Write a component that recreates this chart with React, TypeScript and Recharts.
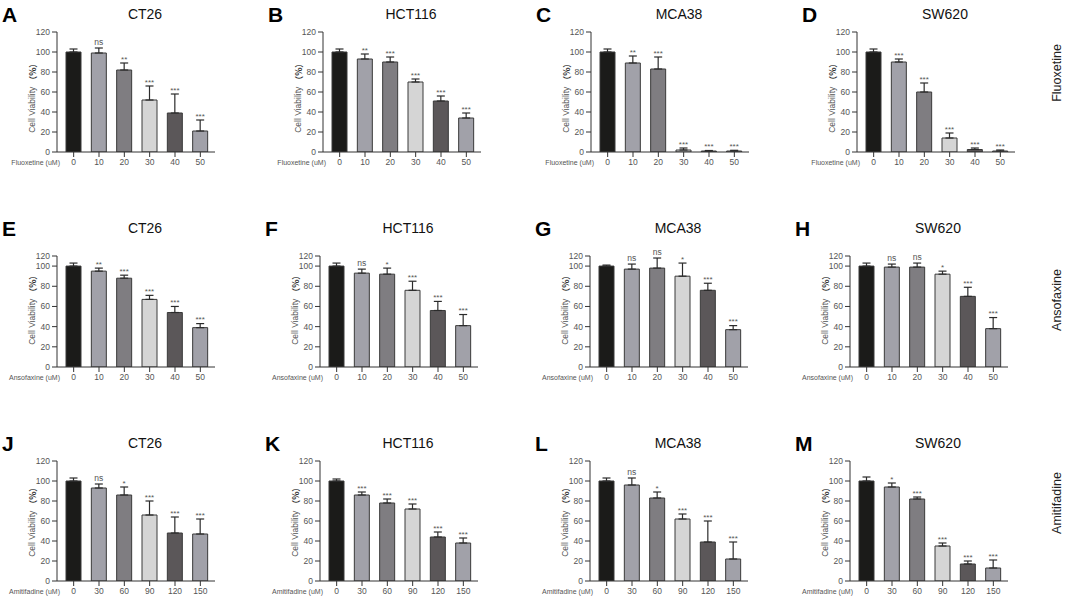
import React from 'react';
import { BarChart, Bar, XAxis, YAxis, ErrorBar, Cell, LabelList } from 'recharts';

// ---------- categories / ticks ----------
const fluoxetineDoses = ['0', '10', '20', '30', '40', '50'];
const ansofaxineDoses = ['0', '10', '20', '30', '40', '50'];
const amitifadineDoses = ['0', '30', '60', '90', '120', '150'];
const yTickValues = [0, 20, 40, 60, 80, 100, 120];
const barColors = ['#1b1b19', '#a1a1a9', '#7f7d81', '#d5d5d5', '#5b5759', '#a1a1a9'];

// ---------- Fluoxetine ----------
const ct26FluoxMean = [100, 99, 82, 52, 39, 21];
const ct26FluoxErr = [3, 5, 7, 14, 19, 11];
const ct26FluoxSig = ['', 'ns', '**', '***', '***', '***'];
const hct116FluoxMean = [100, 93, 90, 70, 51, 34];
const hct116FluoxErr = [3, 5, 5, 3, 5, 5];
const hct116FluoxSig = ['', '**', '***', '***', '***', '***'];
const mca38FluoxMean = [100, 89, 83, 2, 1, 1];
const mca38FluoxErr = [3, 7, 12, 2, 0.5, 0.7];
const mca38FluoxSig = ['', '**', '***', '***', '***', '***'];
const sw620FluoxMean = [100, 90, 60, 14, 2.5, 1];
const sw620FluoxErr = [3, 3, 9, 5, 1.5, 1];
const sw620FluoxSig = ['', '***', '***', '***', '***', '***'];

// ---------- Ansofaxine ----------
const ct26AnsoMean = [100, 95, 88, 67, 54, 39];
const ct26AnsoErr = [3, 3, 3, 4, 6, 4];
const ct26AnsoSig = ['', '**', '***', '***', '***', '***'];
const hct116AnsoMean = [100, 93, 92, 76, 56, 41];
const hct116AnsoErr = [3, 4, 6, 9, 9, 11];
const hct116AnsoSig = ['', 'ns', '*', '***', '***', '***'];
const mca38AnsoMean = [100, 97, 98, 90, 76, 37];
const mca38AnsoErr = [1, 5, 10, 13, 7, 4];
const mca38AnsoSig = ['', 'ns', 'ns', '*', '***', '***'];
const sw620AnsoMean = [100, 99, 99, 92, 70, 38];
const sw620AnsoErr = [3, 3, 4, 3, 9, 11];
const sw620AnsoSig = ['', 'ns', 'ns', '*', '***', '***'];

// ---------- Amitifadine ----------
const ct26AmitMean = [100, 93, 86, 66, 48, 47];
const ct26AmitErr = [3, 4, 8, 14, 16, 15];
const ct26AmitSig = ['', 'ns', '*', '***', '***', '***'];
const hct116AmitMean = [100, 86, 78, 72, 44, 38];
const hct116AmitErr = [2, 3, 4, 5, 5, 5];
const hct116AmitSig = ['', '***', '***', '***', '***', '***'];
const mca38AmitMean = [100, 96, 83, 62, 39, 22];
const mca38AmitErr = [3, 7, 6, 5, 21, 17];
const mca38AmitSig = ['', 'ns', '*', '***', '***', '***'];
const sw620AmitMean = [100, 94, 82, 35, 17, 13];
const sw620AmitErr = [4, 4, 2, 3, 3, 8];
const sw620AmitSig = ['', '*', '***', '***', '***', '***'];

const cellLines = ['CT26', 'HCT116', 'MCA38', 'SW620'];
const drugs = ['Fluoxetine', 'Ansofaxine', 'Amitifadine'];
const letters = [
  ['A', 'B', 'C', 'D'],
  ['E', 'F', 'G', 'H'],
  ['J', 'K', 'L', 'M'],
];

const FONT = '"Liberation Sans", Arial, sans-serif';
const PLOT_W = 158;
const AXIS_W = 57;

type RowCfg = {
  plotTop: number;
  plotBottom: number;
  titleY: number;
  labelY: number;
  rightY: number;
  squash: boolean; // in the reference the middle row's top tick (120) is drawn at ~110
  axisXs: number[];
  doses: string[];
  panels: { mean: number[]; err: number[]; sig: string[] }[];
};

const rows: RowCfg[] = [
  {
    plotTop: 32, plotBottom: 152, titleY: 14, labelY: 96, rightY: 73, squash: false,
    axisXs: [57, 323, 591, 857], doses: fluoxetineDoses,
    panels: [
      { mean: ct26FluoxMean, err: ct26FluoxErr, sig: ct26FluoxSig },
      { mean: hct116FluoxMean, err: hct116FluoxErr, sig: hct116FluoxSig },
      { mean: mca38FluoxMean, err: mca38FluoxErr, sig: mca38FluoxSig },
      { mean: sw620FluoxMean, err: sw620FluoxErr, sig: sw620FluoxSig },
    ],
  },
  {
    plotTop: 256, plotBottom: 367, titleY: 228, labelY: 308, rightY: 300, squash: true,
    axisXs: [57, 320, 590, 850], doses: ansofaxineDoses,
    panels: [
      { mean: ct26AnsoMean, err: ct26AnsoErr, sig: ct26AnsoSig },
      { mean: hct116AnsoMean, err: hct116AnsoErr, sig: hct116AnsoSig },
      { mean: mca38AnsoMean, err: mca38AnsoErr, sig: mca38AnsoSig },
      { mean: sw620AnsoMean, err: sw620AnsoErr, sig: sw620AnsoSig },
    ],
  },
  {
    plotTop: 461, plotBottom: 581, titleY: 443, labelY: 520, rightY: 503, squash: false,
    axisXs: [57, 320, 590, 850], doses: amitifadineDoses,
    panels: [
      { mean: ct26AmitMean, err: ct26AmitErr, sig: ct26AmitSig },
      { mean: hct116AmitMean, err: hct116AmitErr, sig: hct116AmitSig },
      { mean: mca38AmitMean, err: mca38AmitErr, sig: mca38AmitSig },
      { mean: sw620AmitMean, err: sw620AmitErr, sig: sw620AmitSig },
    ],
  },
];

const SigLabel = (props: any) => {
  const { x, y, width, value } = props;
  if (!value) return null;
  const star = String(value).includes('*');
  return (
    <text
      x={Number(x) + Number(width) / 2}
      y={star ? Number(y) - 1.5 : Number(y) - 3}
      textAnchor="middle"
      fontSize={star ? 8 : 8.5}
      fill="#555"
      fontFamily={FONT}
    >
      {value}
    </text>
  );
};

const makeYLabel = (offsetY: number) => (props: any) => {
  const vb = props.viewBox || { x: 0, y: 0, width: AXIS_W, height: 100 };
  const cx = vb.x + 32;
  const cy = vb.y + offsetY;
  return (
    <text
      x={cx}
      y={cy}
      transform={`rotate(-90 ${cx} ${cy})`}
      textAnchor="middle"
      dominantBaseline="central"
    >
      <tspan fontFamily={FONT} fontSize={8.5} fill="#555">Cell Viability </tspan>
      <tspan fontFamily='"Noto Sans CJK SC", sans-serif' fontSize={8.5} fontWeight="bold" fill="#333">（%）</tspan>
    </text>
  );
};

const makeXLabel = (text: string) => (props: any) => {
  const vb = props.viewBox || { x: AXIS_W, y: 0, width: PLOT_W, height: 22 };
  return (
    <text
      x={vb.x + 3}
      y={vb.y + 10}
      textAnchor="end"
      dominantBaseline="central"
      fontFamily={FONT}
      fontSize={7}
      fill="#555"
    >
      {text}
    </text>
  );
};

function Panel({ row, col }: { row: RowCfg; col: number }) {
  const axisX = row.axisXs[col];
  const p = row.panels[col];
  const r = rows.indexOf(row);
  const mt = 20;
  const plotH = row.plotBottom - row.plotTop;
  const xAxisH = 22;
  const chartW = AXIS_W + PLOT_W + 8;
  const chartH = mt + plotH + xAxisH;
  const data = row.doses.map((d, i) => ({
    dose: d,
    mean: p.mean[i],
    err: [0, p.err[i]],
    cap: p.err[i],
    sig: p.sig[i],
  }));
  const yMax = row.squash ? 110 : 120;
  const ticks = row.squash ? [...yTickValues.slice(0, -1), 110] : yTickValues;
  const fmt = (v: number) => (row.squash && v === 110 ? '120' : String(v));
  const YLabel = makeYLabel(row.labelY - row.plotTop);
  const XLabel = makeXLabel(`${drugs[r]} (uM)`);

  return (
    <>
      <div
        style={{
          position: 'absolute', left: axisX - 55, top: row.titleY - 10, fontFamily: FONT,
          fontWeight: 'bold', fontSize: 21, lineHeight: '21px', color: '#000',
        }}
      >
        {letters[r][col]}
      </div>
      <div
        style={{
          position: 'absolute', left: axisX + 88 - 60, width: 120, top: row.titleY - 9,
          fontFamily: FONT, fontSize: 14, lineHeight: '18px', textAlign: 'center', color: '#111',
        }}
      >
        {cellLines[col]}
      </div>
      <div style={{ position: 'absolute', left: axisX - AXIS_W, top: row.plotTop - mt }}>
        <BarChart
          width={chartW}
          height={chartH}
          data={data}
          margin={{ top: mt, right: chartW - AXIS_W - PLOT_W, bottom: 0, left: 0 }}
        >
          <XAxis
            dataKey="dose"
            height={xAxisH}
            padding={{ left: 4, right: 2 }}
            tickSize={5}
            tickMargin={2}
            axisLine={{ stroke: '#333', strokeWidth: 1 }}
            tickLine={{ stroke: '#333', strokeWidth: 1 }}
            tick={{ fontSize: 8.5, fill: '#555', fontFamily: FONT }}
            interval={0}
            label={<XLabel />}
          />
          <YAxis
            width={AXIS_W}
            domain={[0, yMax]}
            ticks={ticks}
            interval={0}
            tickFormatter={fmt}
            allowDataOverflow
            tickSize={5}
            tickMargin={2}
            axisLine={{ stroke: '#333', strokeWidth: 1 }}
            tickLine={{ stroke: '#333', strokeWidth: 1 }}
            tick={{ fontSize: 8.5, fill: '#555', fontFamily: FONT }}
            label={<YLabel />}
          />
          <Bar dataKey="mean" stackId="s" barSize={15} stroke="#3a3a3a" strokeWidth={1} isAnimationActive={false}>
            {data.map((_, i) => (
              <Cell key={i} fill={barColors[i]} />
            ))}
            <ErrorBar dataKey="err" direction="y" width={4} stroke="#2b2b2b" strokeWidth={1.2} isAnimationActive={false} />
          </Bar>
          <Bar dataKey="cap" stackId="s" barSize={15} fill="none" stroke="none" isAnimationActive={false}>
            <LabelList dataKey="sig" content={<SigLabel />} />
          </Bar>
        </BarChart>
      </div>
    </>
  );
}

export default function App() {
  return (
    <div
      style={{
        position: 'absolute', left: 0, top: 0, width: 1065, height: 596, background: '#fff',
        overflow: 'hidden',
      }}
    >
      {rows.map((row, r) => (
        <React.Fragment key={r}>
          {cellLines.map((_, c) => (
            <Panel key={c} row={row} col={c} />
          ))}
        </React.Fragment>
      ))}
      <svg width={1065} height={596} style={{ position: 'absolute', left: 0, top: 0, pointerEvents: 'none' }}>
        {rows.map((row, r) => (
          <text
            key={r}
            x={1057}
            y={row.rightY}
            transform={`rotate(-90 1057 ${row.rightY})`}
            textAnchor="middle"
            dominantBaseline="central"
            fontFamily={FONT}
            fontSize={12.5}
            fill="#222"
          >
            {drugs[r]}
          </text>
        ))}
      </svg>
    </div>
  );
}
